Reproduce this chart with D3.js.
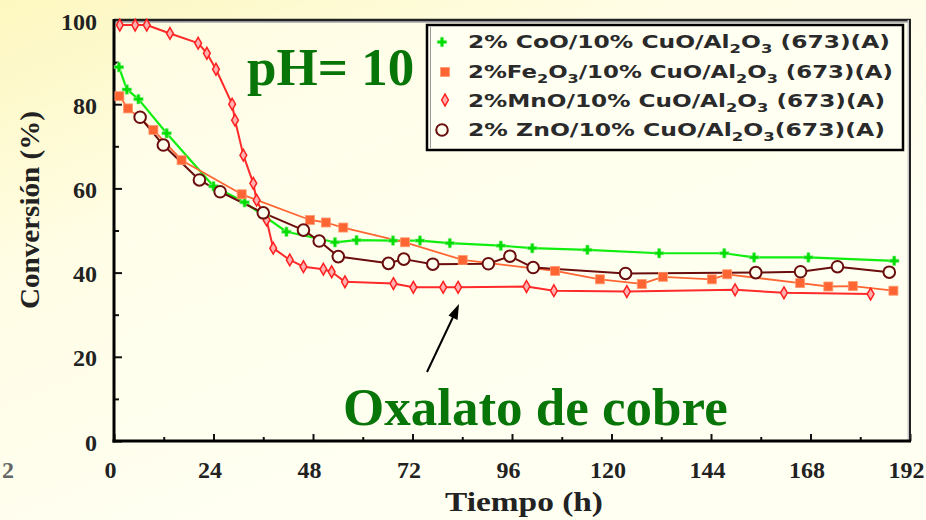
<!DOCTYPE html>
<html>
<head>
<meta charset="utf-8">
<script src="https://cdn.jsdelivr.net/npm/d3@7"></script>
<style>
  html, body { margin: 0; padding: 0; background: #fffff0; }
  svg { display: block; }
</style>
</head>
<body>
<svg id="chart" width="926" height="520"></svg>
<script>
// Conversion (%) versus time (h) for four promoted CuO/Al2O3 catalysts, pH = 10
const xMajorTicks = [0, 24, 48, 72, 96, 120, 144, 168, 192];
const xMinorTicks = [12, 36, 60, 84, 108, 132, 156, 180];
const yMajorTicks = [0, 20, 40, 60, 80, 100];
const yMinorTicks = [10, 30, 50, 70, 90];

// [time (h), conversion (%)]
const coo = [[1.2, 88.8], [3.1, 83.5], [5.9, 81.2], [12.7, 73.1], [24, 60.5], [31.5, 56.7],
  [36.4, 53.3], [41.6, 49.7], [53.3, 47.2], [58.5, 47.7], [67.3, 47.6], [73.8, 47.6], [81, 47],
  [93.3, 46.4], [100.9, 45.8], [114.2, 45.4], [131.5, 44.6], [147.2, 44.6], [154.4, 43.6],
  [167.5, 43.6], [188.2, 42.8]];
const fe2o3 = [[1.3, 81.9], [3.4, 79], [9.5, 73.9], [16.3, 66.7], [30.8, 58.6], [47.3, 52.5],
  [51.1, 51.9], [55.3, 50.7], [70.2, 47.2], [84.1, 43.0], [106.4, 40.4], [117.2, 38.4],
  [127.3, 37.3], [132.4, 39.0], [144.2, 38.4], [147.9, 39.6], [165.5, 37.5], [172.3, 36.7],
  [178.2, 36.8], [188, 35.7]];
const mno = [[1.4, 98.8], [5.1, 98.8], [7.9, 98.8], [13.5, 96.8], [20.3, 94.5], [22.4, 92.1],
  [24.6, 88.3], [28.5, 80], [29.2, 76.2], [31.2, 67.9], [33.6, 61.2], [34.4, 57.2], [36.8, 52.5],
  [38.4, 45.8], [42.4, 43], [45.7, 41.4], [50.5, 40.8], [52.5, 40.2], [55.7, 37.8], [67.4, 37.4],
  [72.2, 36.5], [79.4, 36.5], [83, 36.5], [99.5, 36.7], [106.1, 35.7], [123.7, 35.5],
  [149.8, 35.9], [161.6, 35.2], [182.5, 34.9]];
const zno = [[6.3, 76.9], [11.9, 70.3], [20.6, 62], [25.6, 59.2], [36, 54.2], [45.7, 50.1],
  [49.5, 47.5], [54.1, 43.8], [66.2, 42.2], [69.9, 43.2], [76.9, 42], [90.3, 42.1], [95.5, 43.9],
  [101.1, 41.2], [123.4, 39.8], [154.8, 40], [165.6, 40.2], [174.5, 41.4], [187, 40.1]];

// "_x" marks a subscript character
const legendLabels = [
  "2% CoO/10% CuO/Al_2O_3 (673)(A)",
  "2%Fe_2O_3/10% CuO/Al_2O_3 (673)(A)",
  "2%MnO/10% CuO/Al_2O_3 (673)(A)",
  "2% ZnO/10% CuO/Al_2O_3(673)(A)"
];
const xTitle = "Tiempo (h)";
const yTitle = "Conversión (%)";

const svg = d3.select("#chart");
const serif = "'Liberation Serif', 'Times New Roman', serif";

// page background: warm yellow towards the upper left
const defs = svg.append("defs");
const bg = defs.append("linearGradient").attr("id", "bg")
  .attr("x1", 0).attr("y1", 0).attr("x2", 0.55).attr("y2", 0.75);
bg.append("stop").attr("offset", 0).attr("stop-color", "#fdf7bf");
bg.append("stop").attr("offset", 0.45).attr("stop-color", "#fffde4");
bg.append("stop").attr("offset", 1).attr("stop-color", "#fffff2");
svg.append("rect").attr("width", 926).attr("height", 520).attr("fill", "url(#bg)");

const x = d3.scaleLinear().domain([0, 192]).range([114, 910]);
const y = d3.scaleLinear().domain([0, 100]).range([441, 20]);

// plot area
svg.append("rect").attr("x", x(0)).attr("y", y(100))
  .attr("width", x(192) - x(0)).attr("height", y(0) - y(100))
  .attr("fill", "#fffff0").attr("opacity", 0.6);

// axes (ticks point inward)
function styleAxis(g) {
  g.select(".domain").remove();
  g.selectAll("line").attr("stroke", "#111").attr("stroke-width", 2);
  g.selectAll("text").attr("fill", "#222")
    .attr("font-family", serif).attr("font-size", 24).attr("font-weight", "bold");
}
const xAxis = svg.append("g").attr("transform", `translate(0,${y(0)})`)
  .call(d3.axisBottom(x).tickValues(xMajorTicks).tickSizeInner(-7).tickSizeOuter(0)
    .tickPadding(20).tickFormat(d3.format("d")))
  .call(styleAxis);
xAxis.selectAll("text").attr("dx", -4);
svg.append("g").attr("transform", `translate(0,${y(0)})`)
  .call(d3.axisBottom(x).tickValues(xMinorTicks).tickSizeInner(-4).tickSizeOuter(0).tickFormat(""))
  .call(styleAxis);

svg.append("g").attr("transform", `translate(${x(0)},0)`)
  .call(d3.axisLeft(y).tickValues(yMajorTicks).tickSizeInner(-8).tickSizeOuter(0)
    .tickPadding(17).tickFormat(d3.format("d")))
  .call(styleAxis)
  .selectAll("text").attr("dy", "0.38em");
svg.append("g").attr("transform", `translate(${x(0)},0)`)
  .call(d3.axisLeft(y).tickValues(yMinorTicks).tickSizeInner(-5).tickSizeOuter(0).tickFormat(""))
  .call(styleAxis);

// stray tick label at the far left edge
svg.append("text").attr("x", 8).attr("y", 478).attr("text-anchor", "middle")
  .attr("font-family", serif).attr("font-size", 24).attr("font-weight", "bold")
  .attr("fill", "#666").text("2");

// frame
const frame = svg.append("g").attr("fill", "none");
frame.append("line").attr("x1", x(0)).attr("x2", x(192)).attr("y1", y(100) + 2).attr("y2", y(100) + 2)
  .attr("stroke", "#bbb").attr("stroke-width", 2);
frame.append("line").attr("x1", x(0)).attr("x2", x(192) + 1).attr("y1", y(100)).attr("y2", y(100))
  .attr("stroke", "#222").attr("stroke-width", 2.5);
frame.append("line").attr("x1", x(192) - 1.5).attr("x2", x(192) - 1.5).attr("y1", y(100)).attr("y2", y(0))
  .attr("stroke", "#c8c8c8").attr("stroke-width", 2);
frame.append("line").attr("x1", x(192)).attr("x2", x(192)).attr("y1", y(100)).attr("y2", y(0))
  .attr("stroke", "#222").attr("stroke-width", 2);
frame.append("line").attr("x1", x(0) - 1.5).attr("x2", x(192) + 1).attr("y1", y(0)).attr("y2", y(0))
  .attr("stroke", "#000").attr("stroke-width", 3);
frame.append("line").attr("x1", x(0)).attr("x2", x(0)).attr("y1", y(100) - 1).attr("y2", y(0) + 1.5)
  .attr("stroke", "#000").attr("stroke-width", 3);

// axis titles
svg.append("text").attr("transform", "translate(30,210) rotate(-90)")
  .attr("text-anchor", "middle").attr("dy", "0.35em")
  .attr("font-family", serif).attr("font-size", 27).attr("font-weight", "bold")
  .attr("fill", "#222").attr("textLength", 198).attr("lengthAdjust", "spacingAndGlyphs")
  .text(yTitle);
svg.append("text").attr("x", 524).attr("y", 511).attr("text-anchor", "middle")
  .attr("font-family", serif).attr("font-size", 28).attr("font-weight", "bold")
  .attr("fill", "#222").attr("textLength", 158).attr("lengthAdjust", "spacingAndGlyphs")
  .text(xTitle);

// series
const series = [
  { data: coo, line: "#10ee10", width: 2.2 },
  { data: fe2o3, line: "#ff6633", width: 1.8 },
  { data: mno, line: "#ff2a2a", width: 2 },
  { data: zno, line: "#6a0d0d", width: 2 }
];
const lineGen = d3.line().x(d => x(d[0])).y(d => y(d[1]));
const plot = svg.append("g");
series.forEach(s => {
  plot.append("path").datum(s.data).attr("d", lineGen)
    .attr("fill", "none").attr("stroke", s.line).attr("stroke-width", s.width)
    .attr("stroke-linejoin", "round");
});

function drawMarker(g, kind, cx, cy) {
  if (kind === 0) {
    g.append("path").attr("d", d3.symbol(d3.symbolDiamond, 30)())
      .attr("transform", `translate(${cx},${cy})`).attr("fill", "#00dd00");
    g.append("path").attr("d", d3.symbol(d3.symbolCross, 50)())
      .attr("transform", `translate(${cx},${cy})`).attr("fill", "#00dd00")
      .attr("stroke", "#8ff08f").attr("stroke-width", 0.6);
  } else if (kind === 1) {
    g.append("rect").attr("x", cx - 4.5).attr("y", cy - 4.5).attr("width", 9).attr("height", 9)
      .attr("fill", "#ff6433").attr("stroke", "#ff9a70").attr("stroke-width", 0.8);
  } else if (kind === 2) {
    g.append("path").attr("d", d3.symbol(d3.symbolDiamond, 40)())
      .attr("transform", `translate(${cx},${cy})`).attr("fill", "#ffb0b0")
      .attr("stroke", "#ff2020").attr("stroke-width", 1.5);
  } else {
    g.append("circle").attr("cx", cx).attr("cy", cy).attr("r", 5.8)
      .attr("fill", "#fffff0").attr("stroke", "#6a0d0d").attr("stroke-width", 2);
  }
}
series.forEach((s, i) => {
  s.data.forEach(d => drawMarker(plot, i, x(d[0]), y(d[1])));
});

// legend
const legend = svg.append("g");
legend.append("rect").attr("x", 427).attr("y", 25).attr("width", 476).attr("height", 125)
  .attr("fill", "#fffff2").attr("stroke", "#000").attr("stroke-width", 2.5);
legend.append("line").attr("x1", 430.5).attr("x2", 430.5).attr("y1", 27).attr("y2", 148)
  .attr("stroke", "#999").attr("stroke-width", 1);
const legendRowsY = [48, 78, 107, 136];
const legendMarkY = [42, 72, 100, 130];
const legendLen = [422, 425, 417, 417];
legendLabels.forEach((lab, i) => {
  drawMarker(legend, i, i === 0 || i === 3 ? 442 : 445, legendMarkY[i]);
  const t = legend.append("text").attr("x", 468).attr("y", legendRowsY[i])
    .attr("font-family", "'DejaVu Sans', sans-serif").attr("font-size", 18.5).attr("font-weight", "bold")
    .attr("fill", "#2a2a2a").attr("textLength", legendLen[i]).attr("lengthAdjust", "spacingAndGlyphs");
  const parts = lab.split(/(_.)/).filter(p => p.length);
  let shift = 0;
  parts.forEach(p => {
    if (p[0] === "_") {
      t.append("tspan").attr("dy", 5 - shift).attr("font-size", 13).text(p[1]);
      shift = 5;
    } else {
      t.append("tspan").attr("dy", -shift).text(p);
      shift = 0;
    }
  });
});

// annotations
const green = "#087508";
svg.append("text").attr("x", 247).attr("y", 85)
  .attr("font-family", serif).attr("font-size", 53).attr("font-weight", "bold")
  .attr("fill", green).text("pH= 10");
svg.append("text").attr("x", 343).attr("y", 425)
  .attr("font-family", serif).attr("font-size", 53).attr("font-weight", "bold")
  .attr("fill", green).text("Oxalato de cobre");

svg.append("line").attr("x1", 427).attr("y1", 372).attr("x2", 454).attr("y2", 315)
  .attr("stroke", "#000").attr("stroke-width", 2);
svg.append("path").attr("d", "M459,304 L448.5,315.5 L457.5,320 Z").attr("fill", "#000");
</script>
</body>
</html>
